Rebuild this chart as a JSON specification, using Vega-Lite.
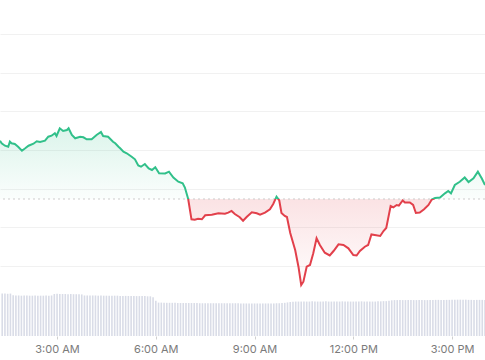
{
  "$schema": "https://vega.github.io/schema/vega-lite/v6.json",
  "width": 485,
  "height": 336,
  "autosize": {"type": "none"},
  "padding": {"left": 0, "top": 0, "right": 0, "bottom": 24},
  "background": "white",
  "config": {"view": {"stroke": null}, "font": "Inter"},
  "datasets": {
    "price": [
      {"t":"2024-01-15T01:16:00","p":132.40},{"t":"2024-01-15T01:19:00","p":131.73},{"t":"2024-01-15T01:25:00","p":131.11},{"t":"2024-01-15T01:31:00","p":130.85},
      {"t":"2024-01-15T01:34:00","p":132.15},{"t":"2024-01-15T01:37:00","p":131.73},{"t":"2024-01-15T01:43:00","p":131.55},{"t":"2024-01-15T01:49:00","p":130.85},
      {"t":"2024-01-15T01:56:00","p":129.82},{"t":"2024-01-15T02:02:00","p":130.44},{"t":"2024-01-15T02:08:00","p":131.11},{"t":"2024-01-15T02:17:00","p":131.63},
      {"t":"2024-01-15T02:23:00","p":132.25},{"t":"2024-01-15T02:29:00","p":132.07},{"t":"2024-01-15T02:38:00","p":132.40},{"t":"2024-01-15T02:44:00","p":133.44},
      {"t":"2024-01-15T02:50:00","p":133.70},{"t":"2024-01-15T02:56:00","p":134.32},{"t":"2024-01-15T02:59:00","p":133.62},{"t":"2024-01-15T03:05:00","p":135.61},
      {"t":"2024-01-15T03:11:00","p":134.91},{"t":"2024-01-15T03:18:00","p":135.17},{"t":"2024-01-15T03:21:00","p":135.61},{"t":"2024-01-15T03:27:00","p":133.88},
      {"t":"2024-01-15T03:33:00","p":133.02},{"t":"2024-01-15T03:42:00","p":133.44},{"t":"2024-01-15T03:48:00","p":133.28},{"t":"2024-01-15T03:54:00","p":132.77},
      {"t":"2024-01-15T04:03:00","p":132.77},{"t":"2024-01-15T04:12:00","p":133.88},{"t":"2024-01-15T04:20:00","p":134.65},{"t":"2024-01-15T04:24:00","p":133.62},
      {"t":"2024-01-15T04:33:00","p":133.44},{"t":"2024-01-15T04:42:00","p":132.15},{"t":"2024-01-15T04:46:00","p":131.73},{"t":"2024-01-15T04:52:00","p":130.85},
      {"t":"2024-01-15T04:55:00","p":130.44},{"t":"2024-01-15T05:01:00","p":129.56},{"t":"2024-01-15T05:07:00","p":129.15},{"t":"2024-01-15T05:16:00","p":128.27},
      {"t":"2024-01-15T05:22:00","p":127.59},{"t":"2024-01-15T05:28:00","p":125.99},{"t":"2024-01-15T05:33:00","p":125.68},{"t":"2024-01-15T05:40:00","p":126.38},
      {"t":"2024-01-15T05:47:00","p":125.22},{"t":"2024-01-15T05:53:00","p":124.83},{"t":"2024-01-15T05:59:00","p":125.53},{"t":"2024-01-15T06:06:00","p":123.97},
      {"t":"2024-01-15T06:17:00","p":123.92},{"t":"2024-01-15T06:24:00","p":124.39},{"t":"2024-01-15T06:32:00","p":122.89},{"t":"2024-01-15T06:41:00","p":121.80},
      {"t":"2024-01-15T06:49:00","p":121.39},{"t":"2024-01-15T06:53:00","p":120.30},{"t":"2024-01-15T06:59:00","p":117.33},{"t":"2024-01-15T07:05:00","p":112.08},
      {"t":"2024-01-15T07:11:00","p":111.95},{"t":"2024-01-15T07:17:00","p":112.23},{"t":"2024-01-15T07:24:00","p":112.08},{"t":"2024-01-15T07:30:00","p":113.11},
      {"t":"2024-01-15T07:42:00","p":113.27},{"t":"2024-01-15T07:54:00","p":113.63},{"t":"2024-01-15T08:06:00","p":113.53},{"t":"2024-01-15T08:12:00","p":113.79},
      {"t":"2024-01-15T08:18:00","p":114.23},{"t":"2024-01-15T08:24:00","p":113.45},{"t":"2024-01-15T08:33:00","p":112.60},{"t":"2024-01-15T08:39:00","p":111.72},
      {"t":"2024-01-15T08:46:00","p":112.75},{"t":"2024-01-15T08:55:00","p":113.89},{"t":"2024-01-15T09:04:00","p":113.63},{"t":"2024-01-15T09:10:00","p":113.27},
      {"t":"2024-01-15T09:19:00","p":113.79},{"t":"2024-01-15T09:28:00","p":114.66},{"t":"2024-01-15T09:34:00","p":116.04},{"t":"2024-01-15T09:40:00","p":117.92},
      {"t":"2024-01-15T09:45:00","p":116.94},{"t":"2024-01-15T09:49:00","p":113.71},{"t":"2024-01-15T09:55:00","p":112.93},{"t":"2024-01-15T09:59:00","p":112.67},
      {"t":"2024-01-15T10:05:00","p":108.54},{"t":"2024-01-15T10:14:00","p":104.14},{"t":"2024-01-15T10:20:00","p":99.82},{"t":"2024-01-15T10:25:00","p":95.09},
      {"t":"2024-01-15T10:29:00","p":95.94},{"t":"2024-01-15T10:35:00","p":99.82},{"t":"2024-01-15T10:41:00","p":100.26},{"t":"2024-01-15T10:47:00","p":103.29},
      {"t":"2024-01-15T10:53:00","p":107.17},{"t":"2024-01-15T10:59:00","p":105.43},{"t":"2024-01-15T11:08:00","p":103.44},{"t":"2024-01-15T11:17:00","p":102.72},
      {"t":"2024-01-15T11:24:00","p":103.88},{"t":"2024-01-15T11:33:00","p":105.61},{"t":"2024-01-15T11:42:00","p":105.43},{"t":"2024-01-15T11:51:00","p":104.58},
      {"t":"2024-01-15T12:00:00","p":102.85},{"t":"2024-01-15T12:06:00","p":102.72},{"t":"2024-01-15T12:12:00","p":103.88},{"t":"2024-01-15T12:21:00","p":104.99},
      {"t":"2024-01-15T12:27:00","p":105.43},{"t":"2024-01-15T12:33:00","p":108.15},{"t":"2024-01-15T12:39:00","p":108.02},{"t":"2024-01-15T12:49:00","p":107.76},
      {"t":"2024-01-15T12:55:00","p":109.05},{"t":"2024-01-15T13:00:00","p":109.83},{"t":"2024-01-15T13:08:00","p":115.52},{"t":"2024-01-15T13:13:00","p":115.18},
      {"t":"2024-01-15T13:19:00","p":115.78},{"t":"2024-01-15T13:23:00","p":115.60},{"t":"2024-01-15T13:30:00","p":116.94},{"t":"2024-01-15T13:34:00","p":116.42},
      {"t":"2024-01-15T13:43:00","p":116.42},{"t":"2024-01-15T13:49:00","p":115.78},{"t":"2024-01-15T13:54:00","p":113.71},{"t":"2024-01-15T14:01:00","p":113.84},
      {"t":"2024-01-15T14:09:00","p":114.66},{"t":"2024-01-15T14:17:00","p":115.78},{"t":"2024-01-15T14:23:00","p":117.20},{"t":"2024-01-15T14:29:00","p":117.59},
      {"t":"2024-01-15T14:38:00","p":117.72},{"t":"2024-01-15T14:47:00","p":118.80},{"t":"2024-01-15T14:53:00","p":119.40},{"t":"2024-01-15T14:58:00","p":118.80},
      {"t":"2024-01-15T15:05:00","p":120.95},{"t":"2024-01-15T15:14:00","p":121.80},{"t":"2024-01-15T15:23:00","p":122.89},{"t":"2024-01-15T15:30:00","p":121.72},
      {"t":"2024-01-15T15:39:00","p":122.68},{"t":"2024-01-15T15:47:00","p":124.39},{"t":"2024-01-15T15:54:00","p":122.68},{"t":"2024-01-15T16:00:00","p":120.95}
    ],
    "volume": [
      {"t":"2024-01-15T01:20:00","v":101},{"t":"2024-01-15T01:25:00","v":101},{"t":"2024-01-15T01:30:00","v":100.5},{"t":"2024-01-15T01:35:00","v":101},
      {"t":"2024-01-15T01:40:00","v":97},{"t":"2024-01-15T01:45:00","v":96.5},{"t":"2024-01-15T01:50:00","v":96.5},{"t":"2024-01-15T01:55:00","v":96},
      {"t":"2024-01-15T02:00:00","v":96.5},{"t":"2024-01-15T02:05:00","v":96.5},{"t":"2024-01-15T02:10:00","v":96},{"t":"2024-01-15T02:15:00","v":96},
      {"t":"2024-01-15T02:20:00","v":96.5},{"t":"2024-01-15T02:25:00","v":96},{"t":"2024-01-15T02:30:00","v":96},{"t":"2024-01-15T02:35:00","v":96},
      {"t":"2024-01-15T02:40:00","v":96.5},{"t":"2024-01-15T02:45:00","v":96},{"t":"2024-01-15T02:50:00","v":96.5},{"t":"2024-01-15T02:55:00","v":100},
      {"t":"2024-01-15T03:00:00","v":100.5},{"t":"2024-01-15T03:05:00","v":100},{"t":"2024-01-15T03:10:00","v":100},{"t":"2024-01-15T03:15:00","v":100},
      {"t":"2024-01-15T03:20:00","v":99.5},{"t":"2024-01-15T03:25:00","v":100},{"t":"2024-01-15T03:30:00","v":99.5},{"t":"2024-01-15T03:35:00","v":99.5},
      {"t":"2024-01-15T03:40:00","v":99.5},{"t":"2024-01-15T03:45:00","v":99},{"t":"2024-01-15T03:50:00","v":96.5},{"t":"2024-01-15T03:55:00","v":96.5},
      {"t":"2024-01-15T04:00:00","v":96.5},{"t":"2024-01-15T04:05:00","v":96.5},{"t":"2024-01-15T04:10:00","v":96.5},{"t":"2024-01-15T04:15:00","v":96},
      {"t":"2024-01-15T04:20:00","v":96.5},{"t":"2024-01-15T04:25:00","v":96},{"t":"2024-01-15T04:30:00","v":96},{"t":"2024-01-15T04:35:00","v":96},
      {"t":"2024-01-15T04:40:00","v":96},{"t":"2024-01-15T04:45:00","v":96},{"t":"2024-01-15T04:50:00","v":96},{"t":"2024-01-15T04:55:00","v":95.5},
      {"t":"2024-01-15T05:00:00","v":95.5},{"t":"2024-01-15T05:05:00","v":95.5},{"t":"2024-01-15T05:10:00","v":95.5},{"t":"2024-01-15T05:15:00","v":95.5},
      {"t":"2024-01-15T05:20:00","v":95.5},{"t":"2024-01-15T05:25:00","v":95},{"t":"2024-01-15T05:30:00","v":95},{"t":"2024-01-15T05:35:00","v":95},
      {"t":"2024-01-15T05:40:00","v":95},{"t":"2024-01-15T05:45:00","v":94.5},{"t":"2024-01-15T05:50:00","v":94.5},{"t":"2024-01-15T05:55:00","v":92},
      {"t":"2024-01-15T06:00:00","v":84},{"t":"2024-01-15T06:05:00","v":79.5},{"t":"2024-01-15T06:10:00","v":79.5},{"t":"2024-01-15T06:15:00","v":79},
      {"t":"2024-01-15T06:20:00","v":79},{"t":"2024-01-15T06:25:00","v":79},{"t":"2024-01-15T06:30:00","v":79},{"t":"2024-01-15T06:35:00","v":79},
      {"t":"2024-01-15T06:40:00","v":78.5},{"t":"2024-01-15T06:45:00","v":78.5},{"t":"2024-01-15T06:50:00","v":78.5},{"t":"2024-01-15T06:55:00","v":78.5},
      {"t":"2024-01-15T07:00:00","v":78.5},{"t":"2024-01-15T07:05:00","v":78.5},{"t":"2024-01-15T07:10:00","v":78.5},{"t":"2024-01-15T07:15:00","v":78.5},
      {"t":"2024-01-15T07:20:00","v":78},{"t":"2024-01-15T07:25:00","v":78},{"t":"2024-01-15T07:30:00","v":78},{"t":"2024-01-15T07:35:00","v":78},
      {"t":"2024-01-15T07:40:00","v":78},{"t":"2024-01-15T07:45:00","v":78},{"t":"2024-01-15T07:50:00","v":78},{"t":"2024-01-15T07:55:00","v":78},
      {"t":"2024-01-15T08:00:00","v":78},{"t":"2024-01-15T08:05:00","v":78},{"t":"2024-01-15T08:10:00","v":78},{"t":"2024-01-15T08:15:00","v":78},
      {"t":"2024-01-15T08:20:00","v":78},{"t":"2024-01-15T08:25:00","v":78},{"t":"2024-01-15T08:30:00","v":78},{"t":"2024-01-15T08:35:00","v":77.5},
      {"t":"2024-01-15T08:40:00","v":77.5},{"t":"2024-01-15T08:45:00","v":77.5},{"t":"2024-01-15T08:50:00","v":77.5},{"t":"2024-01-15T08:55:00","v":77.5},
      {"t":"2024-01-15T09:00:00","v":77.5},{"t":"2024-01-15T09:05:00","v":77.5},{"t":"2024-01-15T09:10:00","v":77.5},{"t":"2024-01-15T09:15:00","v":77.5},
      {"t":"2024-01-15T09:20:00","v":77.5},{"t":"2024-01-15T09:25:00","v":77.5},{"t":"2024-01-15T09:30:00","v":77.5},{"t":"2024-01-15T09:35:00","v":77.5},
      {"t":"2024-01-15T09:40:00","v":78},{"t":"2024-01-15T09:45:00","v":78},{"t":"2024-01-15T09:50:00","v":78.5},{"t":"2024-01-15T09:55:00","v":79},
      {"t":"2024-01-15T10:00:00","v":80},{"t":"2024-01-15T10:05:00","v":81},{"t":"2024-01-15T10:10:00","v":81.5},{"t":"2024-01-15T10:15:00","v":82},
      {"t":"2024-01-15T10:20:00","v":82},{"t":"2024-01-15T10:25:00","v":82},{"t":"2024-01-15T10:30:00","v":82},{"t":"2024-01-15T10:35:00","v":82},
      {"t":"2024-01-15T10:40:00","v":82},{"t":"2024-01-15T10:45:00","v":82.5},{"t":"2024-01-15T10:50:00","v":82},{"t":"2024-01-15T10:55:00","v":82},
      {"t":"2024-01-15T11:00:00","v":82},{"t":"2024-01-15T11:05:00","v":82},{"t":"2024-01-15T11:10:00","v":82.5},{"t":"2024-01-15T11:15:00","v":82},
      {"t":"2024-01-15T11:20:00","v":82},{"t":"2024-01-15T11:25:00","v":82},{"t":"2024-01-15T11:30:00","v":82},{"t":"2024-01-15T11:35:00","v":82},
      {"t":"2024-01-15T11:40:00","v":82.5},{"t":"2024-01-15T11:45:00","v":82},{"t":"2024-01-15T11:50:00","v":82},{"t":"2024-01-15T11:55:00","v":82},
      {"t":"2024-01-15T12:00:00","v":82},{"t":"2024-01-15T12:05:00","v":82},{"t":"2024-01-15T12:10:00","v":82},{"t":"2024-01-15T12:15:00","v":82.5},
      {"t":"2024-01-15T12:20:00","v":82},{"t":"2024-01-15T12:25:00","v":82},{"t":"2024-01-15T12:30:00","v":82},{"t":"2024-01-15T12:35:00","v":82},
      {"t":"2024-01-15T12:40:00","v":82},{"t":"2024-01-15T12:45:00","v":82.5},{"t":"2024-01-15T12:50:00","v":82.5},{"t":"2024-01-15T12:55:00","v":83},
      {"t":"2024-01-15T13:00:00","v":83},{"t":"2024-01-15T13:05:00","v":84},{"t":"2024-01-15T13:10:00","v":85},{"t":"2024-01-15T13:15:00","v":85.5},
      {"t":"2024-01-15T13:20:00","v":85.5},{"t":"2024-01-15T13:25:00","v":85.5},{"t":"2024-01-15T13:30:00","v":85.5},{"t":"2024-01-15T13:35:00","v":85.5},
      {"t":"2024-01-15T13:40:00","v":85.5},{"t":"2024-01-15T13:45:00","v":85.5},{"t":"2024-01-15T13:50:00","v":85.5},{"t":"2024-01-15T13:55:00","v":85.5},
      {"t":"2024-01-15T14:00:00","v":85.5},{"t":"2024-01-15T14:05:00","v":85.5},{"t":"2024-01-15T14:10:00","v":85.5},{"t":"2024-01-15T14:15:00","v":85.5},
      {"t":"2024-01-15T14:20:00","v":86},{"t":"2024-01-15T14:25:00","v":86},{"t":"2024-01-15T14:30:00","v":86},{"t":"2024-01-15T14:35:00","v":86},
      {"t":"2024-01-15T14:40:00","v":86},{"t":"2024-01-15T14:45:00","v":86},{"t":"2024-01-15T14:50:00","v":86},{"t":"2024-01-15T14:55:00","v":86},
      {"t":"2024-01-15T15:00:00","v":86.5},{"t":"2024-01-15T15:05:00","v":86.5},{"t":"2024-01-15T15:10:00","v":86.5},{"t":"2024-01-15T15:15:00","v":86.5},
      {"t":"2024-01-15T15:20:00","v":86.5},{"t":"2024-01-15T15:25:00","v":86.5},{"t":"2024-01-15T15:30:00","v":86},{"t":"2024-01-15T15:35:00","v":86},
      {"t":"2024-01-15T15:40:00","v":86},{"t":"2024-01-15T15:45:00","v":86},{"t":"2024-01-15T15:50:00","v":86},{"t":"2024-01-15T15:55:00","v":86},
      {"t":"2024-01-15T16:00:00","v":86}
    ]
  },
  "layer": [
    {
      "data": {"name": "volume"},
      "mark": {"type": "bar", "width": 1.6, "color": "#d9dce7"},
      "encoding": {
        "x": {
          "field": "t", "type": "temporal",
          "scale": {"nice": false, "padding": 0},
          "axis": {
            "values": [
              {"year": 2024, "month": 1, "date": 15, "hours": 3},
              {"year": 2024, "month": 1, "date": 15, "hours": 6},
              {"year": 2024, "month": 1, "date": 15, "hours": 9},
              {"year": 2024, "month": 1, "date": 15, "hours": 12},
              {"year": 2024, "month": 1, "date": 15, "hours": 15}
            ],
            "format": "%-I:%M %p", "grid": false, "domain": false, "ticks": true, "tickColor": "#d0d0d0", "tickSize": 3, "labelColor": "#7b7b7b", "labelFontSize": 11, "labelPadding": 4, "labelFlush": false, "title": null}
        },
        "y": {"field": "v", "type": "quantitative", "scale": {"domain": [0, 800]}, "axis": null}
      }
    },
    {
      "data": {"name": "price"},
      "layer": [
        {
          "mark": {"type": "area", "fill": {"gradient": "linear", "x1": 0, "y1": 0, "x2": 0, "y2": 1, "stops": [
            {"offset": 0, "color": "rgba(48,192,138,0.17)"},
            {"offset": 0.451, "color": "rgba(48,192,138,0.02)"},
            {"offset": 0.451, "color": "rgba(226,64,74,0.15)"},
            {"offset": 1, "color": "rgba(226,64,74,0.01)"}]}},
          "encoding": {
            "x": {"field": "t", "type": "temporal", "title": null},
            "y": {"field": "p", "type": "quantitative", "scale": {"domain": [81.9, 168.79], "nice": false, "zero": false},
                  "axis": {"values": [100, 110, 120, 130, 140, 150, 160], "grid": true, "gridColor": "#f1f1f1", "labels": false, "ticks": false, "domain": false, "title": null}},
            "y2": {"datum": 117.33}
          }
        },
        {
          "data": {"values": [{}]},
          "mark": {"type": "rule", "strokeDash": [2, 3], "color": "#cccccc", "strokeWidth": 1},
          "encoding": {"y": {"datum": 117.33}}
        },
        {
          "mark": {"type": "line", "strokeWidth": 2, "stroke": {"gradient": "linear", "x1": 0, "y1": 0, "x2": 0, "y2": 1, "stops": [
            {"offset": 0, "color": "#31c08a"},
            {"offset": 0.451, "color": "#31c08a"},
            {"offset": 0.451, "color": "#e2404b"},
            {"offset": 1, "color": "#e2404b"}]}},
          "encoding": {
            "x": {"field": "t", "type": "temporal"},
            "y": {"field": "p", "type": "quantitative"}
          }
        }
      ]
    }
  ],
  "resolve": {"scale": {"y": "independent"}}
}
